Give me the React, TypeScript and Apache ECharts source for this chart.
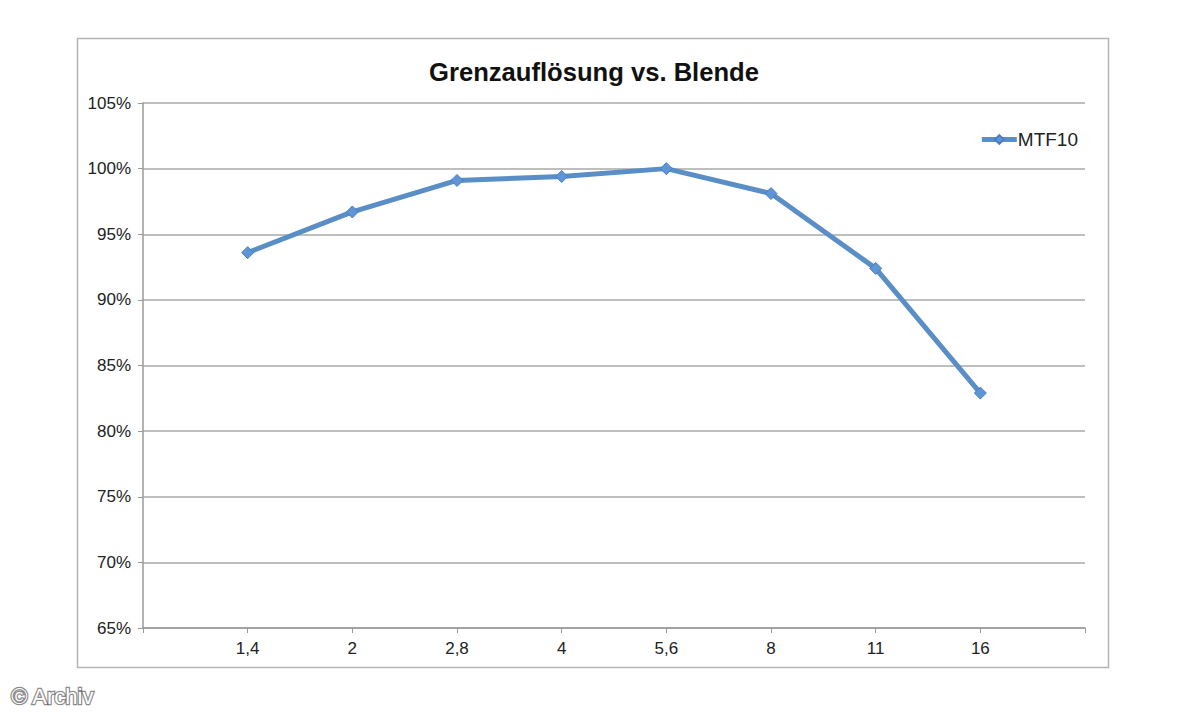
import React, { useEffect, useRef } from "react";
import * as echarts from "echarts";

const categories = ["", "1,4", "2", "2,8", "4", "5,6", "8", "11", "16", ""];
const mtf10 = [null, 93.6, 96.7, 99.1, 99.4, 100.0, 98.1, 92.4, 82.9, null];
const yTicks = { min: 65, max: 105, step: 5 };
const titleText = "Grenzauflösung vs. Blende";
const seriesName = "MTF10";
const watermark = "© Archiv";

export default function App() {
  const ref = useRef<HTMLDivElement>(null);
  useEffect(() => {
    if (!ref.current) return;
    const chart = echarts.init(ref.current, undefined, { renderer: "svg" });
    const blue = "#5a8ec6";
    chart.setOption({
      animation: false,
      backgroundColor: "#ffffff",
      textStyle: { fontFamily: "Liberation Sans, Arial, sans-serif" },
      title: {
        text: titleText,
        left: 589,
        textAlign: "center",
        top: 54,
        textStyle: { fontSize: 25.6, fontWeight: "bold", color: "#111" },
      },
      legend: {
        data: [seriesName],
        right: 116,
        top: 125,
        itemWidth: 35,
        itemHeight: 11,
        itemGap: 2,
        lineStyle: { width: 5 },
        textStyle: { fontSize: 19, color: "#222", padding: [0, 0, 0, -4] },
      },
      grid: { left: 143, top: 103, right: 114, bottom: 92 },
      xAxis: {
        type: "category",
        data: categories,
        boundaryGap: false,
        axisLine: { lineStyle: { color: "#9a9a9a", width: 1.5 } },
        axisTick: { show: true, length: 5, lineStyle: { color: "#9a9a9a" } },
        axisLabel: { fontSize: 17, color: "#222", margin: 12, interval: 0 },
        splitLine: { show: false },
      },
      yAxis: {
        type: "value",
        min: yTicks.min,
        max: yTicks.max,
        interval: yTicks.step,
        axisLine: { show: true, lineStyle: { color: "#9a9a9a", width: 1.5 } },
        axisTick: { show: true, length: 5, lineStyle: { color: "#9a9a9a" } },
        axisLabel: { fontSize: 17, color: "#222", margin: 12, formatter: (v: number) => v + "%" },
        splitLine: { lineStyle: { color: "#a8a8a8", width: 1.5 } },
      },
      series: [
        {
          name: seriesName,
          type: "line",
          data: mtf10,
          connectNulls: false,
          symbol: "diamond",
          symbolSize: 12,
          lineStyle: { color: blue, width: 5 },
          itemStyle: { color: "#5e95d6", borderColor: "#4a7fbf", borderWidth: 1 },
        },
      ],
      graphic: [
        {
          type: "rect",
          shape: { x: 77.5, y: 38.5, width: 1031, height: 629 },
          style: { fill: "none", stroke: "#b5b5b5", lineWidth: 1.5 },
          silent: true,
        },
        {
          type: "text",
          left: 10,
          top: 684,
          style: {
            text: watermark,
            fill: "#ffffff",
            fontSize: 22,
            fontFamily: "Liberation Sans, Arial, sans-serif",
            stroke: "rgba(70,70,70,0.65)",
            lineWidth: 2.5,
            shadowColor: "rgba(0,0,0,0.8)",
            shadowBlur: 5,
          },
        },
      ],
    });
    return () => chart.dispose();
  }, []);
  return (
    <div
      ref={ref}
      style={{ position: "fixed", left: 0, top: 0, width: 1199, height: 720 }}
    />
  );
}
